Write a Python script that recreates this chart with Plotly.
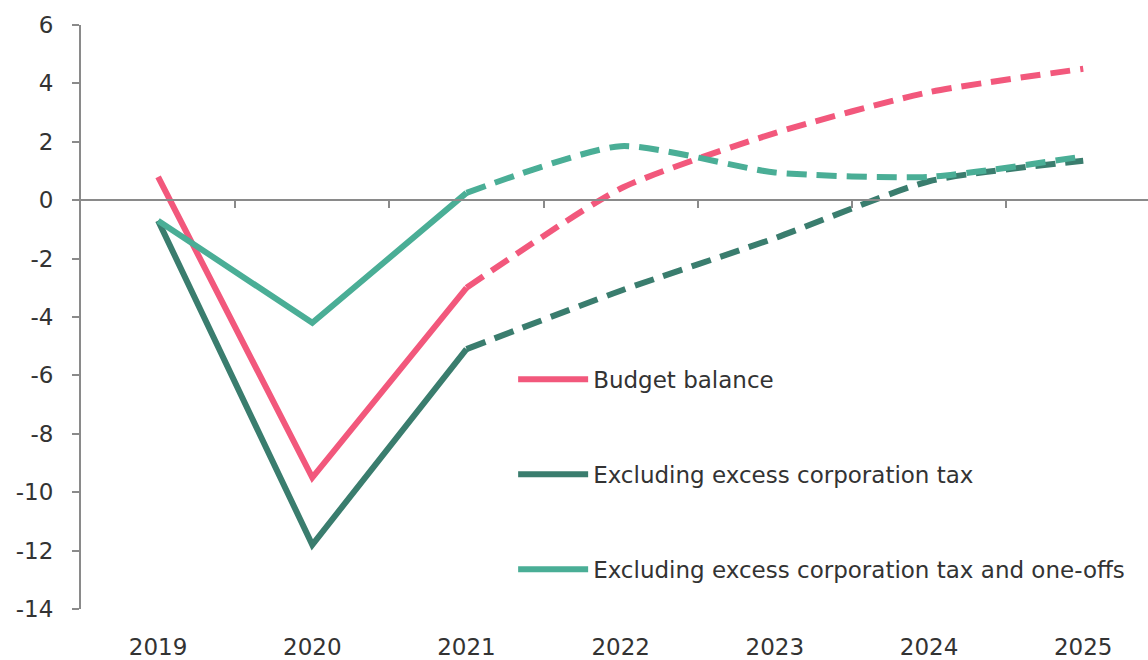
import plotly.graph_objects as go

years = ["2019", "2020", "2021", "2022", "2023", "2024", "2025"]

# Outturn (2019-2021) and projections (2021-2025), % of GDP
budget_balance = [0.8, -9.5, -3.0, 0.4, 2.3, 3.7, 4.5]
excl_corp_tax = [-0.7, -11.8, -5.1, -3.1, -1.3, 0.65, 1.35]
excl_corp_tax_oneoffs = [-0.7, -4.2, 0.25, 1.85, 0.95, 0.8, 1.5]

names = [
    "Budget balance",
    "Excluding excess corporation tax",
    "Excluding excess corporation tax and one-offs",
]
colors = ["#F2587C", "#3A7D6E", "#4AAE96"]
series = [budget_balance, excl_corp_tax, excl_corp_tax_oneoffs]

y_ticks = list(range(-14, 7, 2))
last_outturn = 2  # index of 2021

x_idx = list(range(len(years)))

fig = go.Figure()
for i, (name, color, vals) in enumerate(zip(names, colors, series)):
    # solid outturn segment
    fig.add_trace(go.Scatter(
        x=x_idx[: last_outturn + 1], y=vals[: last_outturn + 1],
        mode="lines", name=name, legendgroup=name,
        line=dict(color=color, width=6),
    ))
    # dashed projection segment (on the zero-line axis)
    fig.add_trace(go.Scatter(
        x=x_idx[last_outturn:], y=vals[last_outturn:],
        xaxis="x2", yaxis="y",
        mode="lines", name=name, legendgroup=name, showlegend=False,
        line=dict(color=color, width=6, dash="20px,10px",
                  shape="spline", smoothing=0.6),
    ))

axis_col = "#8A8A8A"
font_col = "#333333"
font_family = "'DejaVu Sans', sans-serif"

fig.update_layout(
    width=1148, height=660,
    margin=dict(l=81, r=0, t=25, b=48),
    paper_bgcolor="white", plot_bgcolor="white",
    font=dict(family=font_family, size=23, color=font_col),
    showlegend=True,
    legend=dict(
        x=0.405, y=0.43, xanchor="left", yanchor="top",
        bgcolor="rgba(0,0,0,0)", tracegroupgap=62, itemwidth=70,
        font=dict(family=font_family, size=23, color=font_col),
    ),
    xaxis=dict(
        range=[-0.5, 6.42], tickvals=x_idx, ticktext=years,
        showline=False, showgrid=False, zeroline=False, ticks="",
        ticklabelstandoff=22,
    ),
    xaxis2=dict(
        overlaying="x", matches="x", anchor="free", position=0.7,
        range=[-0.5, 6.42],
        tickvals=[i + 0.5 for i in x_idx[:-1]],
        showticklabels=False, showline=True, linecolor=axis_col, linewidth=2,
        ticks="outside", ticklen=7, tickwidth=2, tickcolor=axis_col,
        showgrid=False, zeroline=False,
    ),
    yaxis=dict(
        range=[-14, 6], tickvals=y_ticks,
        ticktext=[str(v) for v in y_ticks],
        showline=True, linecolor=axis_col, linewidth=2,
        ticks="outside", ticklen=7, tickwidth=2, tickcolor=axis_col,
        showgrid=False, zeroline=False, ticklabelstandoff=14,
    ),
)

fig.write_html("out.html")
